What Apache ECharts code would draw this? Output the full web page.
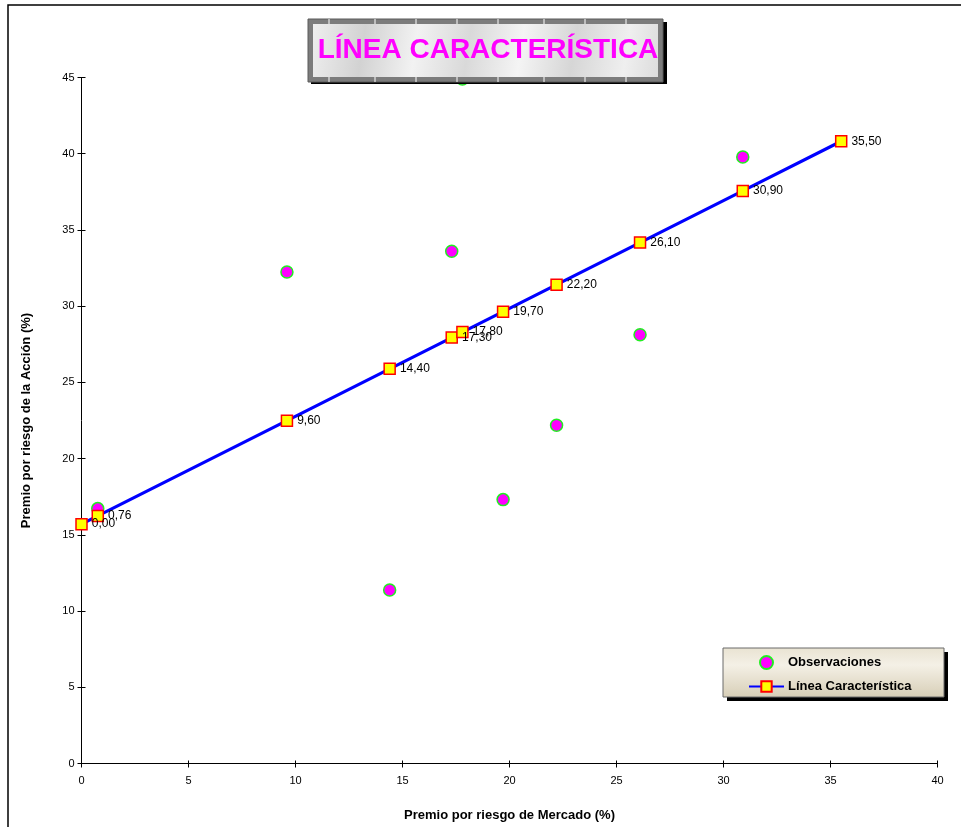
<!DOCTYPE html>
<html>
<head>
<meta charset="utf-8">
<script src="https://cdn.jsdelivr.net/npm/echarts@6/dist/echarts.min.js"></script>
<style>
  html, body { margin: 0; padding: 0; background: #fff; }
  #chart { width: 961px; height: 827px; }
</style>
</head>
<body>
<div id="chart"></div>
<script>
// Observed returns: market risk premium (x) vs. stock risk premium (y), in %
const obsX = [0.76, 9.6, 14.4, 17.3, 17.8, 19.7, 22.2, 26.1, 30.9];
const obsY = [16.72, 32.24, 11.38, 33.6, 44.9, 17.31, 22.19, 28.13, 39.79];

// Characteristic line points
const lineX = [0, 0.76, 9.6, 14.4, 17.3, 17.8, 19.7, 22.2, 26.1, 30.9, 35.5];
const lineY = [15.70, 16.24, 22.49, 25.89, 27.94, 28.30, 29.64, 31.41, 34.17, 37.56, 40.82];

const xTicks = [0, 40, 5];   // min, max, step
const yTicks = [0, 45, 5];

const titleText = 'LÍNEA CARACTERÍSTICA';
const xName = 'Premio por riesgo de Mercado (%)';
const yName = 'Premio por riesgo de la Acción (%)';
const seriesNames = ['Observaciones', 'Línea Característica'];

const FONT = '"Liberation Sans", Arial, sans-serif';

const pairs = (xs, ys) => xs.map((x, i) => [x, ys[i]]);
const fmt = v => v.toFixed(2).replace('.', ',');

const chart = echarts.init(document.getElementById('chart'), null, { renderer: 'canvas' });

const axisCommon = {
  axisLine: { show: true, lineStyle: { color: '#000', width: 1 } },
  splitLine: { show: false }
};

// White notches along the title frame
const notchX = [329, 375, 416, 457, 498, 544, 585, 626];
const notches = [];
notchX.forEach(x => {
  notches.push({ type: 'line', shape: { x1: x, y1: 19, x2: x, y2: 24 }, style: { stroke: '#fff', lineWidth: 1 }, z: 103 });
  notches.push({ type: 'line', shape: { x1: x, y1: 77, x2: x, y2: 82 }, style: { stroke: '#fff', lineWidth: 1 }, z: 103 });
});

chart.setOption({
  backgroundColor: '#fff',
  animation: false,
  textStyle: { fontFamily: FONT },
  grid: { left: 81.5, right: 23.5, top: 77.5, bottom: 63.5, containLabel: false },
  xAxis: [
    Object.assign({}, axisCommon, {
      type: 'value', position: 'bottom',
      min: xTicks[0], max: xTicks[1], interval: xTicks[2],
      axisTick: { show: true, inside: false, length: 4, lineStyle: { color: '#000' } },
      axisLabel: { color: '#000', fontSize: 11, fontFamily: FONT, margin: 12 },
      name: xName, nameLocation: 'middle', nameGap: 45,
      nameTextStyle: { color: '#000', fontWeight: 'bold', fontSize: 13, fontFamily: FONT }
    }),
    Object.assign({}, axisCommon, {
      type: 'value', position: 'bottom',
      min: xTicks[0], max: xTicks[1], interval: xTicks[2],
      axisLine: { show: false },
      axisTick: { show: true, inside: true, length: 3, lineStyle: { color: '#000' } },
      axisLabel: { show: false }
    })
  ],
  yAxis: [
    Object.assign({}, axisCommon, {
      type: 'value', position: 'left',
      min: yTicks[0], max: yTicks[1], interval: yTicks[2],
      axisTick: { show: true, inside: false, length: 4, lineStyle: { color: '#000' } },
      axisLabel: { color: '#000', fontSize: 11, fontFamily: FONT, margin: 7 },
      name: yName, nameLocation: 'middle', nameGap: 49, nameRotate: 90,
      nameTextStyle: { color: '#000', fontWeight: 'bold', fontSize: 13, fontFamily: FONT }
    }),
    Object.assign({}, axisCommon, {
      type: 'value', position: 'left',
      min: yTicks[0], max: yTicks[1], interval: yTicks[2],
      axisLine: { show: false },
      axisTick: { show: true, inside: true, length: 4, lineStyle: { color: '#000' } },
      axisLabel: { show: false }
    })
  ],
  legend: {
    orient: 'vertical',
    left: 748, top: 655,
    itemWidth: 35, itemHeight: 13, itemGap: 10,
    padding: 0,
    textStyle: { color: '#000', fontWeight: 'bold', fontSize: 13, fontFamily: FONT, padding: [0, 0, 0, -1] },
    data: seriesNames,
    z: 110
  },
  graphic: [
    // outer frame
    { type: 'rect', shape: { x: 8, y: 5, width: 1000, height: 1000 }, style: { fill: 'none', stroke: '#000', lineWidth: 1.5 }, z: 1, silent: true },
    // title box: shadow, frame, marble panel, text
    { type: 'rect', shape: { x: 311, y: 22, width: 356, height: 62 }, style: { fill: '#000' }, z: 100 },
    { type: 'rect', shape: { x: 308, y: 19, width: 355, height: 63 }, style: { fill: '#7c7c7c', stroke: '#5a5a5a', lineWidth: 1 }, z: 101 },
    { type: 'rect', shape: { x: 313, y: 24, width: 345, height: 53 },
      style: { fill: new echarts.graphic.LinearGradient(0, 0, 1, 1, [
        { offset: 0, color: '#eeeeee' },
        { offset: 0.15, color: '#d2d2d2' },
        { offset: 0.3, color: '#f2f2f2' },
        { offset: 0.45, color: '#d9d9d9' },
        { offset: 0.6, color: '#f4f4f4' },
        { offset: 0.75, color: '#d6d6d6' },
        { offset: 0.9, color: '#efefef' },
        { offset: 1, color: '#dcdcdc' }
      ]) }, z: 102 },
    ...notches,
    { type: 'text', x: 488, y: 50, style: { text: titleText, fill: '#FF00FF', font: 'bold 28px ' + FONT, align: 'center', verticalAlign: 'middle' }, z: 104 },
    // legend box: shadow then panel
    { type: 'rect', shape: { x: 727, y: 652, width: 221, height: 49 }, style: { fill: '#000' }, z: 105 },
    { type: 'rect', shape: { x: 723, y: 648, width: 221, height: 49 },
      style: { fill: new echarts.graphic.LinearGradient(0, 0, 0, 1, [
        { offset: 0, color: '#e9e3d2' },
        { offset: 0.35, color: '#f4f0e6' },
        { offset: 1, color: '#d7ceb6' }
      ]), stroke: '#6b6b6b', lineWidth: 1 }, z: 106 }
  ],
  series: [
    {
      name: seriesNames[0],
      type: 'scatter',
      data: pairs(obsX, obsY),
      symbol: 'circle',
      symbolSize: 12,
      itemStyle: { color: '#FF00FF', borderColor: '#22ee22', borderWidth: 1.5, opacity: 1 },
      z: 3
    },
    {
      name: seriesNames[1],
      type: 'line',
      data: pairs(lineX, lineY),
      symbol: 'rect',
      symbolSize: 11,
      showAllSymbol: true,
      lineStyle: { color: '#0000FF', width: 3.2 },
      itemStyle: { color: '#FFFF00', borderColor: '#FF0000', borderWidth: 1.5 },
      label: {
        show: true, position: 'right', distance: 4,
        color: '#000', fontSize: 12, fontFamily: FONT,
        formatter: p => fmt(p.value[0])
      },
      labelLayout: { hideOverlap: false },
      z: 4
    }
  ]
});
</script>
</body>
</html>
